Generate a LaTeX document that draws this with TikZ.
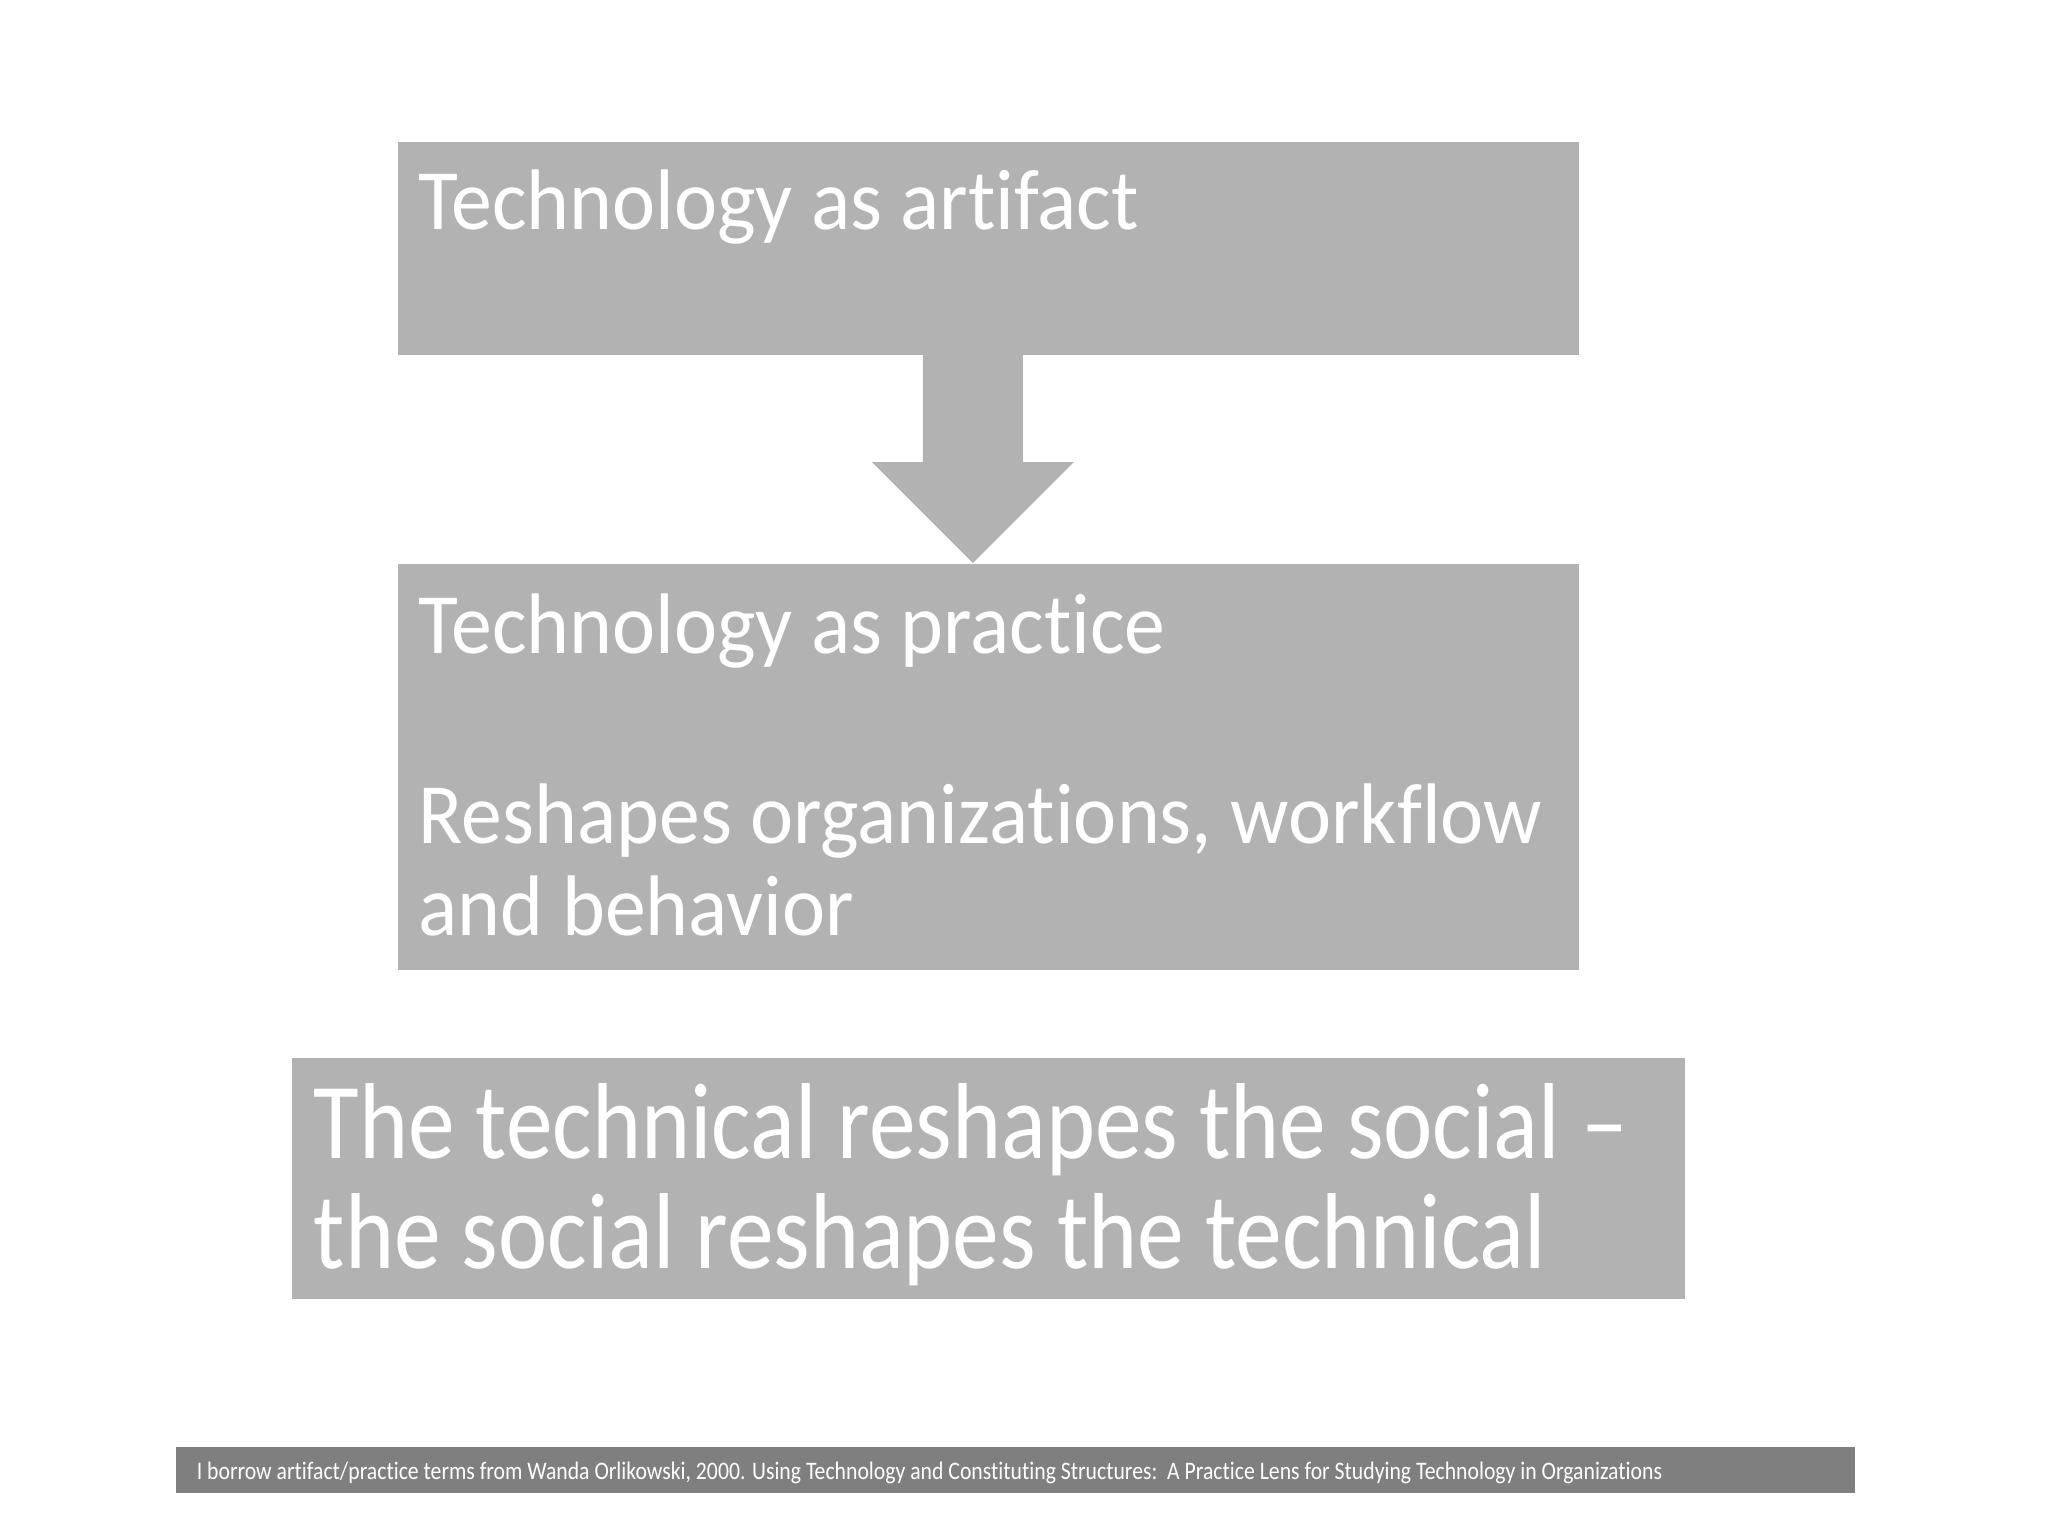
\documentclass[tikz,border=0pt]{standalone}
\usepackage{fontspec}
\setmainfont{Carlito}[Ligatures=NoCommon]
\newfontfamily\panelfont{Carlito}[Ligatures=NoCommon,FakeStretch=0.95]
\newfontfamily\bigpanelfont{Carlito}[Ligatures=NoCommon,FakeStretch=0.865]
\newfontfamily\notefont{Carlito}[Ligatures=NoCommon,FakeStretch=0.862]
\usepackage{xcolor}
\usepackage{tikz}
\usetikzlibrary{positioning,calc}
\definecolor{panelgray}{HTML}{B2B2B2}
\definecolor{notegray}{HTML}{7F7F7F}
\newcommand{\px}{0.25pt}

\begin{document}
\begin{tikzpicture}
	[x=\px,y=-\px,
	panel/.style={fill=panelgray,inner sep=0pt,anchor=north west},
	notebar/.style={fill=notegray,inner sep=0pt,anchor=north west},
	txt/.style={text=white,inner sep=0pt,anchor=base west,font=\panelfont\fontsize{21.5}{26}\selectfont},
	bigtxt/.style={txt,font=\bigpanelfont\fontsize{27}{33}\selectfont},
	notetxt/.style={txt,font=\notefont\fontsize{6.3}{8}\selectfont}]
	\useasboundingbox (0,0) rectangle (2048,1536);
	% boxes
	\node[panel,minimum width=1181*\px,minimum height=213*\px] (artifact) at (397,141) {};
	\node[panel,minimum width=1181*\px,minimum height=406*\px] (practice) at (397,563) {};
	\node[panel,minimum width=1393*\px,minimum height=241*\px] (social) at (291,1057) {};
	\node[notebar,minimum width=1679*\px,minimum height=46*\px] (note) at (175,1446) {};
	% block arrow
	\coordinate (tip) at ($(practice.north)+(-15.5,0)$);
	\fill[panelgray] (tip) -- ++(-101,-101) -- ++(51,0) -- ++(0,-108) -- ++(100,0)
		-- ++(0,108) -- ++(51,0) -- cycle;
	% texts
	\node[txt] (artifactlbl) at ($(artifact.north west)+(21,88)$) {Technology as artifact};
	\node[txt] (practicelbl) at ($(practice.north west)+(21,90)$) {Technology as practice};
	\node[txt] (reshape1) at ($(practice.north west)+(21,280)$) {Reshapes organizations, workflow};
	\node[txt] (reshape2) at ($(practice.north west)+(21,372)$) {and behavior};
	\node[bigtxt] (social1) at ($(social.north west)+(22,101)$) {The technical reshapes the social –};
	\node[bigtxt] (social2) at ($(social.north west)+(22,211)$) {the social reshapes the technical};
	\node[notetxt] (notelbl) at ($(note.north west)+(21,33)$) {I borrow artifact/practice terms from Wanda Orlikowski, 2000. Using Technology and Constituting Structures:\ \ A Practice Lens for Studying Technology in Organizations};
\end{tikzpicture}
\end{document}
